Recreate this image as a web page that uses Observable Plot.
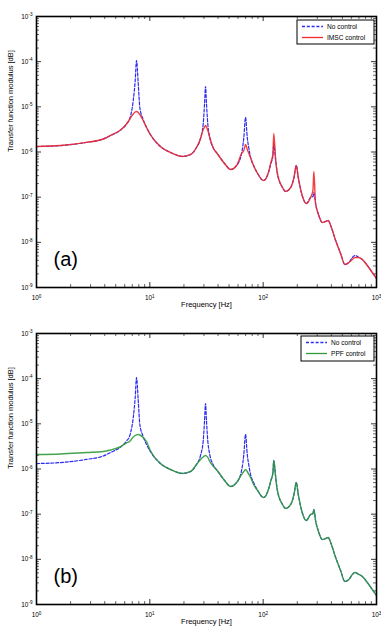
<!DOCTYPE html>
<html>
<head>
<meta charset="utf-8">
<script src="https://cdn.jsdelivr.net/npm/d3@7"></script>
<script src="https://cdn.jsdelivr.net/npm/@observablehq/plot@0.6"></script>
<style>
  body { margin: 0; background: #fff; }
  #chart { width: 381px; }
  #chart svg { display: block; font-family: "Liberation Sans", Arial, sans-serif; }
</style>
</head>
<body>
<div id="chart"></div>
<script>
// Frequency grid [Hz]
const freq = [1.00, 1.63, 2.76, 3.88, 4.50, 5.44, 6.23, 6.66, 7.14, 7.43, 7.63, 7.90, 8.16, 8.74, 9.35, 10.1,
  12.4, 15.2, 19.4, 22.9, 25.8, 28.0, 29.6, 30.4, 31.0, 31.6, 32.5, 33.8, 36.3, 39.3, 45.6, 51.6, 58.3,
  64.5, 67.5, 69.9, 72.4, 74.8, 77.4, 82.3, 89.3, 101, 112, 117, 122, 124, 129, 133, 148, 158, 175,
  187, 196, 204, 221, 240, 262, 275, 280, 290, 310, 332, 356, 375, 394, 436, 482, 526, 571, 612, 645,
  699, 749, 830, 918, 1000];

// Transfer function modulus, open loop
const noControl = [1.32e-6, 1.39e-6, 1.63e-6, 1.94e-6, 2.32e-6, 2.99e-6, 4.17e-6, 5.52e-6, 1.38e-5, 3.83e-5, 1.06e-4, 3.29e-5, 9.66e-6, 5.25e-6, 3.49e-6, 2.44e-6,
  1.32e-6, 9.75e-7, 7.96e-7, 8.81e-7, 1.26e-6, 1.99e-6, 4.28e-6, 1.19e-5, 2.82e-5, 1.19e-5, 4.06e-6, 2.09e-6, 1.23e-6, 9.27e-7, 5.57e-7, 4.10e-7, 5.02e-7,
  9.27e-7, 2.09e-6, 5.81e-6, 2.09e-6, 1.20e-6, 7.55e-7, 5.02e-7, 3.34e-7, 2.34e-7, 3.70e-7, 5.57e-7, 8.38e-7, 1.54e-6, 6.49e-7, 3.52e-7, 1.64e-7, 1.34e-7, 1.64e-7,
  2.73e-7, 5.02e-7, 2.73e-7, 1.09e-7, 7.24e-8, 9.84e-8, 1.03e-7, 1.27e-7, 7.24e-8, 3.93e-8, 2.75e-8, 2.90e-8, 3.05e-8, 2.36e-8, 1.10e-8, 5.66e-9, 3.24e-9, 3.58e-9, 4.62e-9, 5.12e-9,
  4.62e-9, 4.17e-9, 3.07e-9, 2.15e-9, 1.58e-9];

// Independent modal space control
const imscControl = [1.32e-6, 1.39e-6, 1.63e-6, 1.94e-6, 2.32e-6, 2.99e-6, 4.17e-6, 5.38e-6, 6.95e-6, 7.69e-6, 7.89e-6, 7.50e-6, 6.76e-6, 4.99e-6, 3.49e-6, 2.44e-6,
  1.32e-6, 9.75e-7, 7.96e-7, 8.81e-7, 1.26e-6, 1.99e-6, 3.15e-6, 3.58e-6, 3.86e-6, 3.58e-6, 2.99e-6, 2.09e-6, 1.23e-6, 9.27e-7, 5.57e-7, 4.10e-7, 5.02e-7,
  9.27e-7, 1.08e-6, 1.47e-6, 1.14e-6, 9.27e-7, 7.55e-7, 5.02e-7, 3.34e-7, 2.34e-7, 3.70e-7, 5.86e-7, 9.27e-7, 2.57e-6, 6.49e-7, 3.52e-7, 1.64e-7, 1.34e-7, 1.64e-7,
  2.73e-7, 5.02e-7, 2.73e-7, 1.09e-7, 7.24e-8, 9.84e-8, 1.41e-7, 3.70e-7, 7.24e-8, 3.93e-8, 2.75e-8, 2.90e-8, 3.05e-8, 2.36e-8, 1.10e-8, 5.66e-9, 3.24e-9, 3.58e-9, 4.17e-9, 4.62e-9,
  4.62e-9, 4.17e-9, 3.07e-9, 2.15e-9, 1.58e-9];

// Positive position feedback control
const ppfControl = [2.09e-6, 2.15e-6, 2.32e-6, 2.44e-6, 2.64e-6, 3.07e-6, 3.77e-6, 4.13e-6, 5.12e-6, 5.52e-6, 5.71e-6, 5.81e-6, 5.66e-6, 4.99e-6, 4.06e-6, 2.57e-6,
  1.32e-6, 9.75e-7, 7.96e-7, 8.81e-7, 1.26e-6, 1.63e-6, 1.85e-6, 1.96e-6, 1.99e-6, 1.94e-6, 1.80e-6, 1.47e-6, 1.14e-6, 9.27e-7, 5.57e-7, 4.10e-7, 5.02e-7,
  7.55e-7, 8.81e-7, 9.59e-7, 8.81e-7, 7.55e-7, 6.49e-7, 4.54e-7, 3.34e-7, 2.34e-7, 3.70e-7, 5.57e-7, 8.38e-7, 1.54e-6, 6.49e-7, 3.52e-7, 1.64e-7, 1.34e-7, 1.64e-7,
  2.73e-7, 5.02e-7, 2.73e-7, 1.09e-7, 7.24e-8, 9.84e-8, 1.03e-7, 1.27e-7, 7.24e-8, 3.93e-8, 2.75e-8, 2.90e-8, 3.05e-8, 2.36e-8, 1.10e-8, 5.66e-9, 3.24e-9, 3.58e-9, 4.62e-9, 5.12e-9,
  4.62e-9, 4.17e-9, 3.07e-9, 2.15e-9, 1.58e-9];

// Axes
const xTicks = [1, 10, 100, 1000];
const xTickLabels = ["10^0", "10^1", "10^2", "10^3"];
const yTicks = [1e-9, 1e-8, 1e-7, 1e-6, 1e-5, 1e-4, 1e-3];
const yTickLabels = ["10^-9", "10^-8", "10^-7", "10^-6", "10^-5", "10^-4", "10^-3"];
const xLabel = "Frequency [Hz]";
const yLabel = "Transfer function modulus [dB]";
const seriesNames = ["No control", "IMSC control", "PPF control"];
const panelLabels = ["(a)", "(b)"];

const minorOf = (majors) => majors.slice(0, -1).flatMap(d => [2, 3, 4, 5, 6, 7, 8, 9].map(k => d * k));
const xMinor = minorOf(xTicks);
const yMinor = minorOf(yTicks);

const BLUE = "#2b2bf2";
const RED = "#f22a2a";
const GREEN = "#2f9a3a";

function drawPanel({control, color, name, label, height, marginBottom, legendBox}) {
  const W = 381, mL = 36, mR = 5, mT = 16;
  const innerW = W - mL - mR;
  const innerH = height - mT - marginBottom;
  const rows = freq.map((f, i) => ({f, none: noControl[i], ctrl: control[i]}));
  const xFmt = new Map(xTicks.map((d, i) => [d, xTickLabels[i]]));
  const yFmt = new Map(yTicks.map((d, i) => [d, yTickLabels[i]]));
  const major = 5, minor = 3;

  const svg = Plot.plot({
    width: W, height, marginLeft: mL, marginRight: mR, marginTop: mT, marginBottom,
    style: {fontFamily: "'Liberation Sans', Arial, sans-serif", fontSize: "6.4px", color: "#000", background: "#fff"},
    x: {type: "log", domain: [1, 1000], label: null},
    y: {type: "log", domain: [1e-9, 1e-3], label: null},
    marks: [
      Plot.axisX(xTicks, {tickSize: 0, tickPadding: 8, tickFormat: d => xFmt.get(d), label: null}),
      Plot.axisY(yTicks, {tickSize: 0, tickPadding: 4, tickFormat: d => yFmt.get(d), label: null}),
      // inward tick marks on all four sides
      Plot.tickX(xTicks, {x: d => d, insetTop: innerH - major, stroke: "#000", strokeWidth: 0.8}),
      Plot.tickX(xTicks, {x: d => d, insetBottom: innerH - major, stroke: "#000", strokeWidth: 0.8}),
      Plot.tickX(xMinor, {x: d => d, insetTop: innerH - minor, stroke: "#000", strokeWidth: 0.6}),
      Plot.tickX(xMinor, {x: d => d, insetBottom: innerH - minor, stroke: "#000", strokeWidth: 0.6}),
      Plot.tickY(yTicks, {y: d => d, insetRight: innerW - major, stroke: "#000", strokeWidth: 0.8}),
      Plot.tickY(yTicks, {y: d => d, insetLeft: innerW - major, stroke: "#000", strokeWidth: 0.8}),
      Plot.tickY(yMinor, {y: d => d, insetRight: innerW - minor, stroke: "#000", strokeWidth: 0.6}),
      Plot.tickY(yMinor, {y: d => d, insetLeft: innerW - minor, stroke: "#000", strokeWidth: 0.6}),
      // curves
      Plot.line(rows, {x: "f", y: "none", stroke: BLUE, strokeWidth: 1.2, strokeDasharray: "3,1.8", curve: "monotone-x"}),
      Plot.line(rows, {x: "f", y: "ctrl", stroke: color, strokeWidth: 1.4, strokeOpacity: 0.9, curve: "monotone-x"}),
      Plot.frame({stroke: "#000", strokeWidth: 1.6}),
      // panel tag and axis titles
      Plot.text([label], {frameAnchor: "bottom-left", dx: 17, dy: -22, text: d => d, fontSize: 20, textAnchor: "start", fill: "#000"}),
      Plot.text([xLabel], {frameAnchor: "bottom", dy: 19, text: d => d, fontSize: 7.5, fill: "#000"}),
      Plot.text([yLabel], {frameAnchor: "left", dx: -26, rotate: -90, text: d => d, fontSize: 7.5, fill: "#000"})
    ]
  });

  // exponent notation for tick labels
  d3.select(svg).selectAll('g[aria-label$="tick label"] text').each(function () {
    const s = this.textContent;
    const parts = s.split("^");
    if (parts.length < 2) return;
    this.textContent = "";
    d3.select(this).append("tspan").text(parts[0]);
    d3.select(this).append("tspan").attr("dy", "-0.55em").attr("font-size", "0.72em").text(parts[1]);
  });

  // legend
  const g = d3.select(svg).append("g").attr("font-size", 6.6).attr("fill", "#000").attr("text-anchor", "start");
  g.append("rect").attr("x", legendBox.x).attr("y", legendBox.y).attr("width", legendBox.w).attr("height", legendBox.h)
    .attr("fill", "#fff").attr("stroke", "#000").attr("stroke-width", 1);
  const entries = [
    {text: seriesNames[0], stroke: BLUE, dash: "3,1.8"},
    {text: name, stroke: color, dash: null}
  ];
  entries.forEach((e, i) => {
    const cy = legendBox.y + 6.5 + i * 11;
    g.append("line").attr("x1", legendBox.x + 5).attr("x2", legendBox.x + 26).attr("y1", cy).attr("y2", cy)
      .attr("stroke", e.stroke).attr("stroke-width", 1.3).attr("stroke-dasharray", e.dash);
    g.append("text").attr("x", legendBox.x + 30).attr("y", cy).attr("dy", "0.35em").attr("text-anchor", "start").text(e.text);
  });
  return svg;
}

const chart = document.getElementById("chart");
chart.appendChild(drawPanel({control: imscControl, color: RED, name: seriesNames[1], label: panelLabels[0],
  height: 317, marginBottom: 30, legendBox: {x: 297, y: 20, w: 77, h: 24}}));
chart.appendChild(drawPanel({control: ppfControl, color: GREEN, name: seriesNames[2], label: panelLabels[1],
  height: 312, marginBottom: 25, legendBox: {x: 301, y: 19, w: 73, h: 25}}));
</script>
</body>
</html>
